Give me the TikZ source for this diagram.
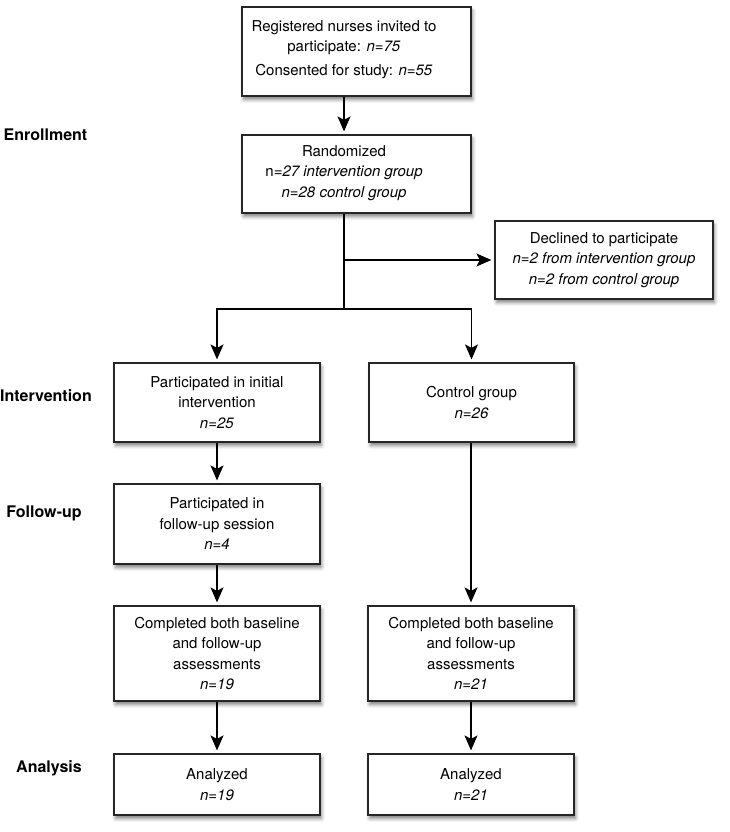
\documentclass[tikz,border=0pt]{standalone}
\usepackage{fontspec}
\setmainfont{TeX Gyre Heros}
\usetikzlibrary{arrows.meta,shadows.blur}

\begin{document}
\begin{tikzpicture}[x=1pt,y=1pt,>={Stealth[length=15pt,width=13pt,inset=3.5pt]},
  flowbox/.style={draw=black!85,line width=1.2pt,fill=white,inner sep=0pt,blur shadow={shadow xshift=1.5pt,shadow yshift=-3.5pt,shadow blur radius=3.5pt,shadow opacity=50}},
  flowtxt/.style={align=center,font=\fontsize{15}{20.5}\selectfont},
  phase/.style={font=\fontsize{16}{19}\selectfont\bfseries},
  flow/.style={->,line width=1.2pt,shorten >=3pt},
  trunk/.style={line width=1.2pt}]
\useasboundingbox (0,0) rectangle (729,-832);

% phase labels
\node[phase] (ph_enr) at (45.5,-135) {Enrollment};
\node[phase] (ph_int) at (46,-396) {Intervention};
\node[phase] (ph_fol) at (44,-513) {Follow-up};
\node[phase] (ph_ana) at (49,-768) {Analysis};

% enrollment
\node[flowbox,minimum width=229pt,minimum height=89pt] (top_box) at (356.5,-51.5) {};
\node[flowtxt] (top_txt) at (344,-49.5) {Registered nurses invited to\\participate: \textit{n=75}\\[3pt]Consented for study: \textit{n=55}};
\node[flowbox,minimum width=229pt,minimum height=78pt] (rand_box) at (356.5,-174) {};
\node[flowtxt] (rand_txt) at (344,-173) {Randomized\\n\textit{=27 intervention group}\\\textit{n=28 control group}};
\node[flowbox,flowtxt,minimum width=218pt,minimum height=78pt] (decl) at (604,-260) {Declined to participate\\\textit{n=2 from intervention group}\\\textit{n=2 from control group}};

% groups
\node[flowbox,flowtxt,minimum width=206pt,minimum height=79pt] (part) at (217,-402.5) {Participated in initial\\intervention\\\textit{n=25}};
\node[flowbox,flowtxt,minimum width=205pt,minimum height=79pt] (ctrl) at (471.5,-402.5) {Control group\\\textit{n=26}};
\node[flowbox,flowtxt,minimum width=206pt,minimum height=80pt] (foll) at (217,-524) {Participated in\\follow-up session\\\textit{n=4}};
\node[flowbox,flowtxt,minimum width=206pt,minimum height=95pt] (comp_l) at (217,-653.5) {Completed both baseline\\and follow-up\\assessments\\\textit{n=19}};
\node[flowbox,flowtxt,minimum width=206pt,minimum height=95pt] (comp_r) at (471,-653.5) {Completed both baseline\\and follow-up\\assessments\\\textit{n=21}};
\node[flowbox,flowtxt,minimum width=206pt,minimum height=61pt] (ana_l) at (217,-784.5) {Analyzed\\\textit{n=19}};
\node[flowbox,flowtxt,minimum width=206pt,minimum height=61pt] (ana_r) at (471,-784.5) {Analyzed\\\textit{n=21}};

% connectors
\coordinate (split) at (344,-309);
\draw[flow] (top_box.south -| top_txt) -- (rand_box.north -| top_txt);
\draw[trunk] (rand_box.south -| split) -- (split);
\draw[flow] (split |- decl.west) -- (decl.west);
\draw[flow] (split) -| (part.north);
\draw[flow] (split) -| (ctrl.north);
\draw[flow] (part) -- (foll);
\draw[flow] (foll) -- (comp_l);
\draw[flow] (comp_l) -- (ana_l);
\draw[flow] (ctrl.south -| comp_r) -- (comp_r.north);
\draw[flow] (comp_r) -- (ana_r);
\end{tikzpicture}
\end{document}
